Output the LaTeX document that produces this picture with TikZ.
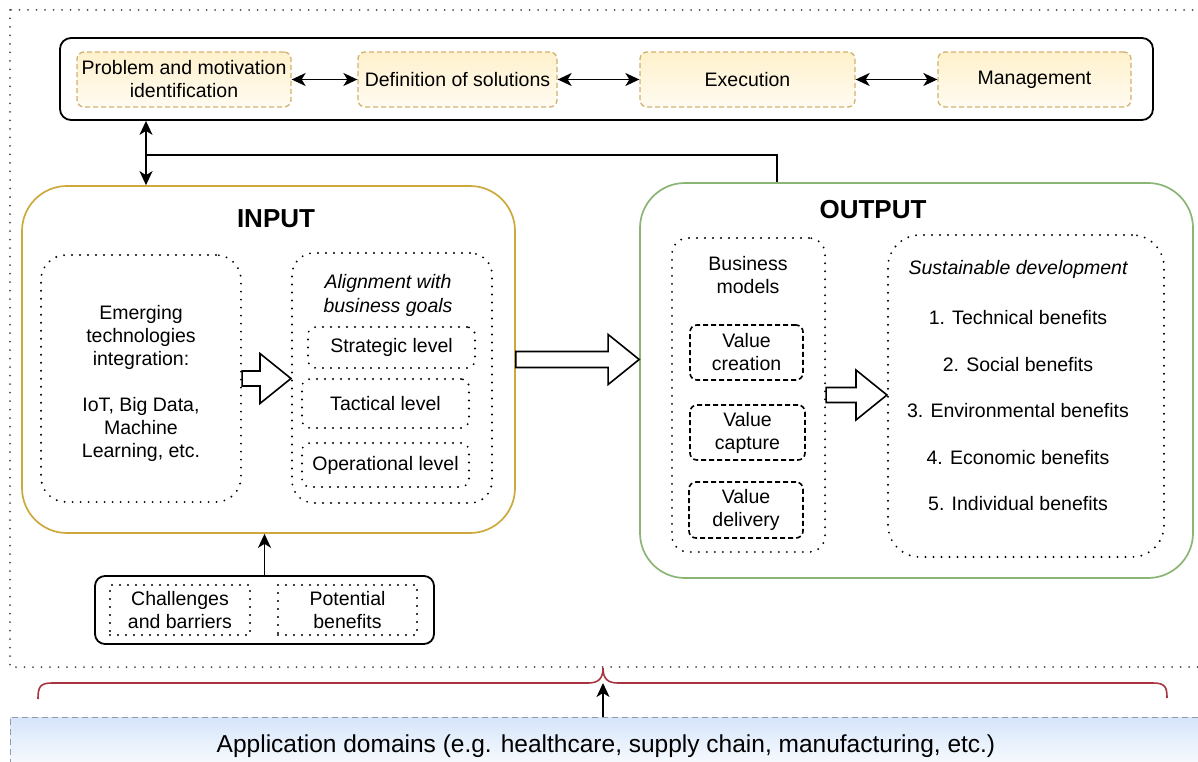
\documentclass[tikz,border=0pt]{standalone}
\usepackage{fontspec}
\setmainfont{Liberation Sans}
\usetikzlibrary{arrows.meta,calc}

\definecolor{goldline}{HTML}{CDA83C}
\definecolor{phaseline}{HTML}{CFB26E}
\definecolor{phasetop}{HTML}{FFF1CC}
\definecolor{phasebot}{HTML}{FFFBF1}
\definecolor{greenline}{HTML}{8AB574}
\definecolor{bracered}{HTML}{A83440}
\definecolor{appblue}{HTML}{D6E5FA}
\definecolor{appline}{HTML}{8E9DAE}

\newcommand\hollowarrow[3]{% from, to, half shaft height
  \draw[blockarr] let \p1=(#1), \p2=(#2) in
    (\x1,{\y1+#3}) -- ({\x2-31pt},{\y1+#3}) -- ({\x2-31pt},{\y1+25pt})
    -- (\x2,\y1) -- ({\x2-31pt},{\y1-25pt}) -- ({\x2-31pt},{\y1-#3})
    -- (\x1,{\y1-#3}) -- cycle;}

\tikzset{
  every node/.style={font=\fontsize{19.5}{23}\selectfont},
  box/.style={draw, inner sep=0pt, align=center},
  dots/.style={line width=2.1pt, dash pattern=on 0pt off 8pt, line cap=round},
  phase/.style={box, rounded corners=7pt, draw=phaseline, line width=1.3pt,
    dash pattern=on 5pt off 3pt, top color=phasetop, bottom color=phasebot,
    minimum height=55pt},
  dotbox/.style={box, dots},
  valbox/.style={box, rounded corners=7pt, line width=1.6pt,
    dash pattern=on 5pt off 3pt, minimum height=55pt},
  conn/.style={line width=1.6pt},
  dbl/.style={conn, {Stealth[length=14pt,width=13pt,inset=4pt]}-{Stealth[length=14pt,width=13pt,inset=4pt]}},
  sgl/.style={conn, -{Stealth[length=14pt,width=13pt,inset=4pt]}},
  blockarr/.style={draw, line width=1.6pt, fill=white, line join=miter},
  title/.style={font=\bfseries\fontsize{26}{30}\selectfont},
}

\begin{document}
\begin{tikzpicture}[x=1pt,y=-1pt]
\useasboundingbox (0,0) rectangle (1198,762);
\clip (0,0) rectangle (1198,762);

% framework frame
\draw[line width=2pt, dash pattern=on 0pt off 8.5pt, line cap=round, black!70]
  (10,10) rectangle (1215,667);

% phases
\node[box, rounded corners=11pt, line width=1.8pt, minimum width=1093pt, minimum height=82pt]
  (topbox) at (606.5,79) {};
\node[phase, minimum width=214pt] (prob) at (184,79.5) {Problem and motivation\\identification};
\node[phase, minimum width=199pt] (def) at (457.5,79.5) {Definition of solutions};
\node[phase, minimum width=215pt] (exec) at (747.5,79.5) {Execution};
\node[phase, minimum width=193pt] (mgmt) at (1034.5,79.5) {Management};
\draw[dbl] (prob.east) -- (def.west);
\draw[dbl] (def.east) -- (exec.west);
\draw[dbl] (exec.east) -- (mgmt.west);

% input block
\node[box, draw=goldline, line width=1.7pt, rounded corners=45pt,
  minimum width=493pt, minimum height=347pt] (input) at (268.5,359.5) {};
\node[title] (intitle) at (276,219) {INPUT};
\node[dotbox, rounded corners=25pt, minimum width=200pt, minimum height=247pt]
  (emerg) at (141,378.5) {};
\node[align=center] (emergtxt) at (141,383)
  {Emerging\\technologies\\integration:\\[23pt]IoT, Big Data,\\Machine\\Learning, etc.};
\node[dotbox, rounded corners=22pt, minimum width=200pt, minimum height=250pt]
  (align) at (392,378) {};
\node[align=center, font=\itshape\fontsize{19.5}{24}\selectfont] (aligntxt) at (388,295)
  {Alignment with\\business goals};
\node[dotbox, rounded corners=8pt, minimum width=167pt, minimum height=41pt]
  (strat) at (391.5,347.5) {Strategic level};
\node[dotbox, rounded corners=8pt, minimum width=167pt, minimum height=49pt]
  (tact) at (385.5,403.5) {Tactical level};
\node[dotbox, rounded corners=8pt, minimum width=167pt, minimum height=44pt]
  (oper) at (385.5,465) {Operational level};
\hollowarrow{emerg.east}{emerg.east -| align.west}{7.5pt}

% output block
\node[box, draw=greenline, line width=1.7pt, rounded corners=45pt,
  minimum width=553pt, minimum height=395pt] (output) at (916.5,380.5) {};
\node[title] (outtitle) at (873,210) {OUTPUT};
\node[dotbox, rounded corners=16pt, minimum width=153pt, minimum height=314pt]
  (bm) at (748.5,395) {};
\node[align=center] (bmtxt) at (748,275) {Business\\models};
\node[valbox, minimum width=113pt] (vcre) at (746.5,352.5) {Value\\creation};
\node[valbox, minimum width=115pt] (vcap) at (747.5,432.5) {Value\\capture};
\node[valbox, minimum width=114pt, minimum height=56pt] (vdel) at (746,510) {Value\\delivery};
\node[dotbox, rounded corners=32pt, minimum width=276pt, minimum height=322pt]
  (sd) at (1026,396) {};
\node[font=\itshape\fontsize{19.5}{23}\selectfont] (sdtitle) at (1018,269) {Sustainable development};
\node (b1) at (1018,318) {1. Technical benefits};
\node (b2) at (1018,365) {2. Social benefits};
\node (b3) at (1018,411) {3. Environmental benefits};
\node (b4) at (1018,458) {4. Economic benefits};
\node (b5) at (1018,504) {5. Individual benefits};
\hollowarrow{bm.east}{bm.east -| sd.west}{7.5pt}

% input feeds output
\hollowarrow{input.east}{input.east -| output.west}{8pt}

% feedback to the phases
\coordinate (ja) at (146,155);
\coordinate (jc) at (777,155);
\draw[dbl] (topbox.south -| ja) -- (input.north -| ja);
\draw[conn] (output.north -| jc) -- (jc) -- (ja);

% challenges and benefits
\node[box, rounded corners=10pt, line width=1.8pt, minimum width=339pt, minimum height=68pt]
  (cb) at (264.5,610) {};
\node[dotbox, minimum width=140pt, minimum height=50pt] (chal) at (180,610) {Challenges\\and barriers};
\node[dotbox, minimum width=139pt, minimum height=50pt] (pot) at (347.5,610) {Potential\\benefits};
\draw[sgl] (cb.north) -- (cb.north |- input.south);

% application domains
\node[box, draw=appline, line width=1pt, dash pattern=on 6pt off 4pt,
  top color=appblue, bottom color=white, minimum width=1210pt, minimum height=58pt]
  (app) at (615,746) {};
\node[font=\fontsize{24.5}{28}\selectfont] (apptxt) at (606,746)
  {Application domains (e.g. healthcare, supply chain, manufacturing, etc.)};

% brace over the framework
\draw[bracered, line width=1.6pt]
  (38,699) .. controls (38,687) and (40,683) .. (52,683) -- (588,683)
  .. controls (598,683) and (603,679) .. (603,668)
  .. controls (603,679) and (608,683) .. (618,683) -- (1153,683)
  .. controls (1165,683) and (1167,687) .. (1167,698);
\coordinate (bt) at (603,683);
\draw[sgl] (app.north -| bt) -- (bt);
\end{tikzpicture}
\end{document}
